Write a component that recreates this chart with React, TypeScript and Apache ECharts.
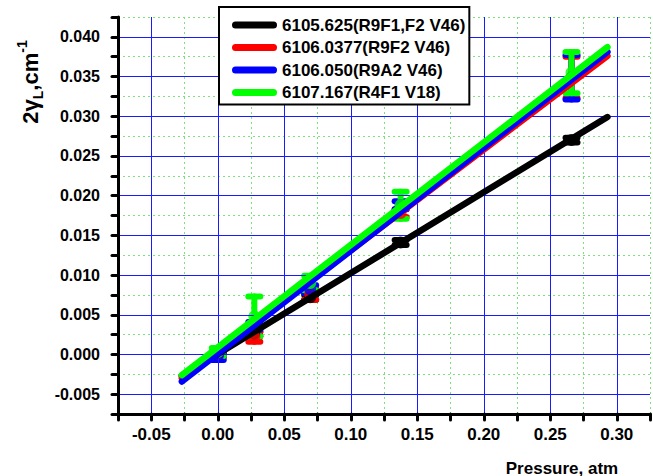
import React, { useEffect, useRef } from "react";
import * as echarts from "echarts";

const FONT = '"Liberation Sans", Arial, sans-serif';

const seriesNames = [
  "6105.625(R9F1,F2 V46)",
  "6106.0377(R9F2 V46)",
  "6106.050(R9A2 V46)",
  "6107.167(R4F1 V18)",
];
const seriesColors = ["#000000", "#ff0000", "#0000ff", "#00ff00"];

// measured pressures (atm)
const pressure = [0.0, 0.0275, 0.0695, 0.1375, 0.266];

// 2*gamma_L values (cm^-1) and error bars
const gammaBlack = [0.0, 0.0026, 0.0072, 0.0141, 0.027];
const errBlack = [0.0003, 0.0003, 0.0003, 0.0003, 0.0003];
const gammaRed = [0.0, 0.0022, 0.0076, 0.0178, 0.0349];
const errRed = [0.0003, 0.0006, 0.0007, 0.0005, 0.0026];
const gammaBlue = [-0.0003, 0.0036, 0.0082, 0.0188, 0.0349];
const errBlue = [0.0004, 0.0005, 0.0005, 0.0005, 0.0028];
const gammaGreen = [0.0003, 0.0048, 0.009, 0.0188, 0.0355];
const errGreen = [0.0005, 0.0025, 0.0009, 0.0017, 0.0026];

// linear fit end points
const fitX = [-0.027, 0.293];
const fitBlack = [-0.0027, 0.0299];
const fitRed = [-0.003, 0.0376];
const fitBlue = [-0.0034, 0.0381];
const fitGreen = [-0.0026, 0.0387];

const gammas = [gammaBlack, gammaRed, gammaBlue, gammaGreen];
const errs = [errBlack, errRed, errBlue, errGreen];
const fits = [fitBlack, fitRed, fitBlue, fitGreen];

const xMin = -0.075;
const xMax = 0.325;
const xStep = 0.025;
const yMin = -0.0075;
const yMax = 0.0425;
const yStep = 0.0025;

const legendIcon =
  "path://M3.5,0 L41.5,0 A3.5,3.5 0 0 1 41.5,7 L3.5,7 A3.5,3.5 0 0 1 3.5,0 Z";

export default function App() {
  const ref = useRef<HTMLDivElement>(null);

  useEffect(() => {
    if (!ref.current) return;
    const chart = echarts.init(ref.current, undefined, { renderer: "svg" });

    const series: any[] = [];
    seriesNames.forEach((name, i) => {
      const color = seriesColors[i];
      series.push({
        type: "line",
        name,
        data: fitX.map((x, j) => [x, fits[i][j]]),
        showSymbol: false,
        symbol: "none",
        lineStyle: { color, width: 6.5, cap: "round" },
        itemStyle: { color },
      });
      series.push({
        type: "custom",
        name: name + " err",
        data: pressure.map((x, j) => [x, gammas[i][j], errs[i][j]]),
        encode: { x: 0, y: 1 },
        renderItem: (params: any, api: any) => {
          const x = api.value(0);
          const y = api.value(1);
          const e = api.value(2);
          const top = api.coord([x, y + e]);
          const bot = api.coord([x, y - e]);
          const hw = 6;
          const style = { stroke: color, lineWidth: 6, lineCap: "round", fill: null };
          return {
            type: "group",
            children: [
              { type: "line", shape: { x1: top[0], y1: top[1], x2: bot[0], y2: bot[1] }, style },
              { type: "line", shape: { x1: top[0] - hw, y1: top[1], x2: top[0] + hw, y2: top[1] }, style },
              { type: "line", shape: { x1: bot[0] - hw, y1: bot[1], x2: bot[0] + hw, y2: bot[1] }, style },
            ],
          };
        },
        itemStyle: { color },
      });
      series.push({
        type: "scatter",
        name: name + " pts",
        data: pressure.map((x, j) => [x, gammas[i][j]]),
        symbol: "circle",
        symbolSize: 12,
        itemStyle: { color },
      });
    });

    const xFmt = (v: number) => {
      const k = Math.round(v / xStep);
      if (k % 2 !== 0) return "";
      const val = k * xStep;
      return Math.abs(val) < 1e-9 ? "0.00" : val.toFixed(2);
    };
    const yFmt = (v: number) => {
      const k = Math.round(v / yStep);
      if (k % 2 !== 0) return "";
      const val = k * yStep;
      return Math.abs(val) < 1e-9 ? "0.000" : val.toFixed(3);
    };

    const axisLineStyle = { color: "#000", width: 3, cap: "round" };
    const tickStyle = { color: "#000", width: 3, cap: "round" };
    const majorColor = "#1a1aff";
    const minorColor = "#7ee07e";
    const none = "rgba(0,0,0,0)";

    const option: any = {
      animation: false,
      backgroundColor: "#ffffff",
      grid: { left: 118, right: 0, top: 17, bottom: 62, containLabel: false },
      xAxis: [
        {
          type: "value",
          min: xMin,
          max: xMax,
          interval: xStep,
          position: "bottom",
          axisLine: { show: true, onZero: false, lineStyle: axisLineStyle },
          axisTick: { show: true, inside: false, length: 6, lineStyle: tickStyle },
          axisLabel: {
            formatter: xFmt,
            fontSize: 17,
            fontWeight: "bold",
            fontFamily: FONT,
            color: "#000",
            margin: 12,
          },
          splitLine: { show: true, lineStyle: { color: [none, majorColor], width: 1 } },
          z: 3,
        },
        {
          type: "value",
          min: xMin,
          max: xMax,
          interval: xStep,
          position: "top",
          axisLine: { show: false, onZero: false },
          axisTick: { show: false },
          axisLabel: { show: false },
          splitLine: {
            show: true,
            lineStyle: { color: [minorColor, none], width: 1, type: [2, 3] },
          },
        },
      ],
      yAxis: [
        {
          type: "value",
          min: yMin,
          max: yMax,
          interval: yStep,
          position: "left",
          axisLine: { show: true, onZero: false, lineStyle: axisLineStyle },
          axisTick: { show: true, inside: false, length: 6, lineStyle: tickStyle },
          axisLabel: {
            formatter: yFmt,
            fontSize: 16,
            fontWeight: "bold",
            fontFamily: FONT,
            color: "#000",
            margin: 18,
          },
          splitLine: { show: true, lineStyle: { color: [none, majorColor], width: 1 } },
          z: 3,
        },
        {
          type: "value",
          min: yMin,
          max: yMax,
          interval: yStep,
          position: "right",
          axisLine: { show: false, onZero: false },
          axisTick: { show: false },
          axisLabel: { show: false },
          splitLine: {
            show: true,
            lineStyle: { color: [minorColor, none], width: 1, type: [2, 3] },
          },
        },
      ],
      legend: {
        data: seriesNames.map((n) => ({ name: n, icon: legendIcon })),
        orient: "vertical",
        left: 219,
        top: 7,
        itemWidth: 45,
        itemHeight: 7,
        itemGap: 4.5,
        padding: [9, 4, 3, 13],
        backgroundColor: "#ffffff",
        borderColor: "#000",
        borderWidth: 2,
        borderRadius: 0,
        selectedMode: false,
        textStyle: {
          fontSize: 17,
          fontWeight: "bold",
          fontFamily: FONT,
          color: "#000",
          lineHeight: 18,
        },
        z: 10,
      },
      graphic: [
        {
          type: "text",
          x: 562,
          y: 468,
          style: {
            text: "Pressure, atm",
            fontSize: 17,
            fontWeight: "bold",
            fontFamily: FONT,
            fill: "#000",
            align: "center",
            verticalAlign: "middle",
          },
        },
        {
          type: "text",
          x: 30,
          y: 82,
          rotation: Math.PI / 2,
          style: {
            text: "{a|2γ}{s|L}{a|,cm}{u|-1}",
            fill: "#000",
            align: "center",
            verticalAlign: "middle",
            rich: {
              a: { fontSize: 22, fontWeight: "bold", fontFamily: FONT, lineHeight: 30, fill: "#000" },
              s: { fontSize: 14, fontWeight: "bold", fontFamily: FONT, lineHeight: 14, verticalAlign: "bottom", fill: "#000" },
              u: { fontSize: 14, fontWeight: "bold", fontFamily: FONT, lineHeight: 14, verticalAlign: "top", fill: "#000" },
            },
          },
        },
      ],
      series,
    };

    chart.setOption(option);
    return () => {
      chart.dispose();
    };
  }, []);

  return (
    <div
      ref={ref}
      style={{ position: "fixed", left: 0, top: 0, width: 653, height: 476, background: "#fff" }}
    />
  );
}
